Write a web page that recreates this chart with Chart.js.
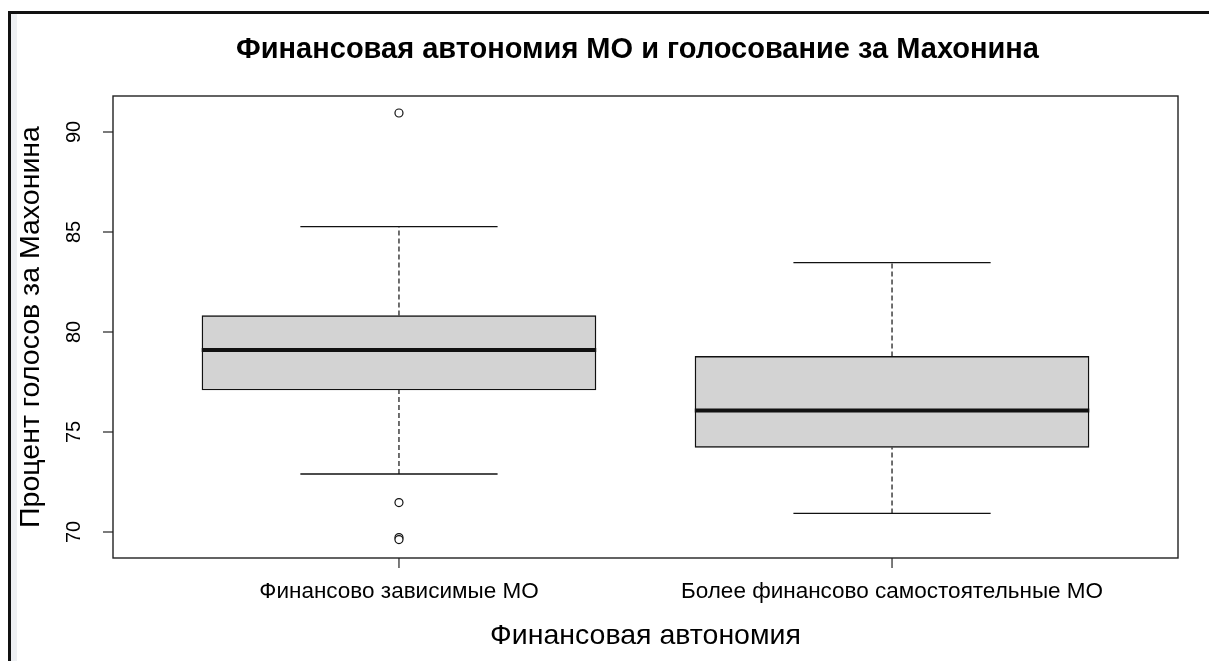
<!DOCTYPE html>
<html lang="ru">

<head>
    <meta charset="UTF-8">
    <title>Финансовая автономия МО и голосование за Махонина</title>
    <style>
        body {
            margin: 0;
            background: #ffffff;
            overflow: hidden;
        }

        .marco {
            position: absolute;
            left: 8px;
            top: 11px;
            right: 0;
            bottom: 0;
            border-top: 3px solid #111;
            border-left: 3px solid #111;
        }

        .franja {
            position: absolute;
            left: 11px;
            top: 14px;
            width: 6px;
            bottom: 0;
            background: #eef0f3;
        }

        #grafico {
            position: absolute;
            left: 0;
            top: 0;
        }
    </style>
</head>

<body>
    <div class="marco"></div>
    <div class="franja"></div>
    <canvas id="grafico" width="1209" height="661"></canvas>

    <script src="https://cdn.jsdelivr.net/npm/chart.js@4.4.0/dist/chart.umd.min.js"></script>
    <script>
        // datos
        const categorias = ['Финансово зависимые МО', 'Более финансово самостоятельные МО'];
        const bigoteInferior = [72.9, 70.93];
        const cuartil1 = [77.1, 74.23];
        const medianas = [79.1, 76.08];
        const cuartil3 = [80.82, 78.78];
        const bigoteSuperior = [85.27, 83.47];
        const atipicos = [[90.95, 71.47, 69.72, 69.62], []];
        const ticksY = [70, 75, 80, 85, 90];

        const titulo = 'Финансовая автономия МО и голосование за Махонина';
        const tituloX = 'Финансовая автономия';
        const tituloY = 'Процент голосов за Махонина';

        const fuente = "'Liberation Sans', Arial, sans-serif";
        const negro = '#111';

        function segmento(x1, y1, x2, y2) {
            return [{ x: x1, y: y1 }, { x: x2, y: y2 }];
        }

        function lineaDataset(datos, ancho, guion, orden) {
            return {
                type: 'scatter',
                data: datos,
                showLine: true,
                borderColor: negro,
                borderWidth: ancho,
                borderDash: guion,
                pointRadius: 0,
                order: orden,
            };
        }

        function armarDatasets() {
            const ds = [];

            ds.push({
                type: 'bar',
                data: categorias.map((c, i) => ({ x: i + 1, y: [cuartil1[i], cuartil3[i]] })),
                backgroundColor: '#d3d3d3',
                borderColor: negro,
                borderWidth: 1.4,
                borderSkipped: false,
                barThickness: 394,
                order: 10,
            });

            categorias.forEach((c, i) => {
                const x = i + 1;
                ds.push(lineaDataset(segmento(x, cuartil3[i], x, bigoteSuperior[i]), 1.2, [5, 3], 5));
                ds.push(lineaDataset(segmento(x, bigoteInferior[i], x, cuartil1[i]), 1.2, [5, 3], 5));
                ds.push(lineaDataset(segmento(x - 0.2, bigoteSuperior[i], x + 0.2, bigoteSuperior[i]), 1.4, [], 4));
                ds.push(lineaDataset(segmento(x - 0.2, bigoteInferior[i], x + 0.2, bigoteInferior[i]), 1.4, [], 4));
                ds.push(lineaDataset(segmento(x - 0.4, medianas[i], x + 0.4, medianas[i]), 4, [], 3));
            });

            ds.push({
                type: 'scatter',
                data: atipicos.flatMap((vals, i) => vals.map(v => ({ x: i + 1, y: v }))),
                pointRadius: 4,
                pointBackgroundColor: '#ffffff',
                pointBorderColor: negro,
                pointBorderWidth: 1.2,
                order: 1,
            });

            return ds;
        }

        // ejes, marco y textos al estilo de R
        const ejesR = {
            id: 'ejesR',
            afterDraw(chart) {
                const ctx = chart.ctx;
                const area = chart.chartArea;
                const sx = chart.scales.x;
                const sy = chart.scales.y;
                const centroX = (area.left + area.right) / 2;
                const centroY = (area.top + area.bottom) / 2;

                ctx.save();
                ctx.strokeStyle = '#222';
                ctx.lineWidth = 1.4;
                ctx.strokeRect(area.left, area.top, area.right - area.left, area.bottom - area.top);

                ctx.fillStyle = '#000';
                ctx.lineWidth = 1.2;

                // eje y
                ctx.font = '20px ' + fuente;
                ctx.textAlign = 'center';
                ctx.textBaseline = 'middle';
                ticksY.forEach(v => {
                    const py = sy.getPixelForValue(v);
                    ctx.beginPath();
                    ctx.moveTo(area.left - 10, py);
                    ctx.lineTo(area.left, py);
                    ctx.stroke();
                    ctx.save();
                    ctx.translate(area.left - 39, py);
                    ctx.rotate(-Math.PI / 2);
                    ctx.fillText(String(v), 0, 0);
                    ctx.restore();
                });

                // eje x
                ctx.font = '22.5px ' + fuente;
                categorias.forEach((c, i) => {
                    const px = sx.getPixelForValue(i + 1);
                    ctx.beginPath();
                    ctx.moveTo(px, area.bottom);
                    ctx.lineTo(px, area.bottom + 10);
                    ctx.stroke();
                    ctx.fillText(c, px, area.bottom + 34);
                });

                // titulos
                ctx.font = '28.5px ' + fuente;
                ctx.fillText(tituloX, centroX, area.bottom + 78);

                ctx.save();
                ctx.translate(area.left - 82, centroY);
                ctx.rotate(-Math.PI / 2);
                ctx.fillText(tituloY, 0, 0);
                ctx.restore();

                ctx.font = 'bold 29px ' + fuente;
                ctx.fillText(titulo, centroX - 8, 50);

                ctx.restore();
            },
        };

        const ctx = document.getElementById('grafico').getContext('2d');
        const grafico = new Chart(ctx, {
            type: 'scatter',
            data: { datasets: armarDatasets() },
            options: {
                responsive: false,
                devicePixelRatio: 1,
                animation: false,
                layout: {
                    padding: { left: 113, right: 31, top: 96, bottom: 103 },
                },
                plugins: {
                    legend: { display: false },
                    tooltip: { enabled: false },
                },
                scales: {
                    x: {
                        type: 'linear',
                        min: 0.42,
                        max: 2.58,
                        offset: false,
                        display: false,
                    },
                    y: {
                        type: 'linear',
                        min: 68.7,
                        max: 91.8,
                        display: false,
                    },
                },
            },
            plugins: [ejesR],
        });
    </script>
</body>

</html>
